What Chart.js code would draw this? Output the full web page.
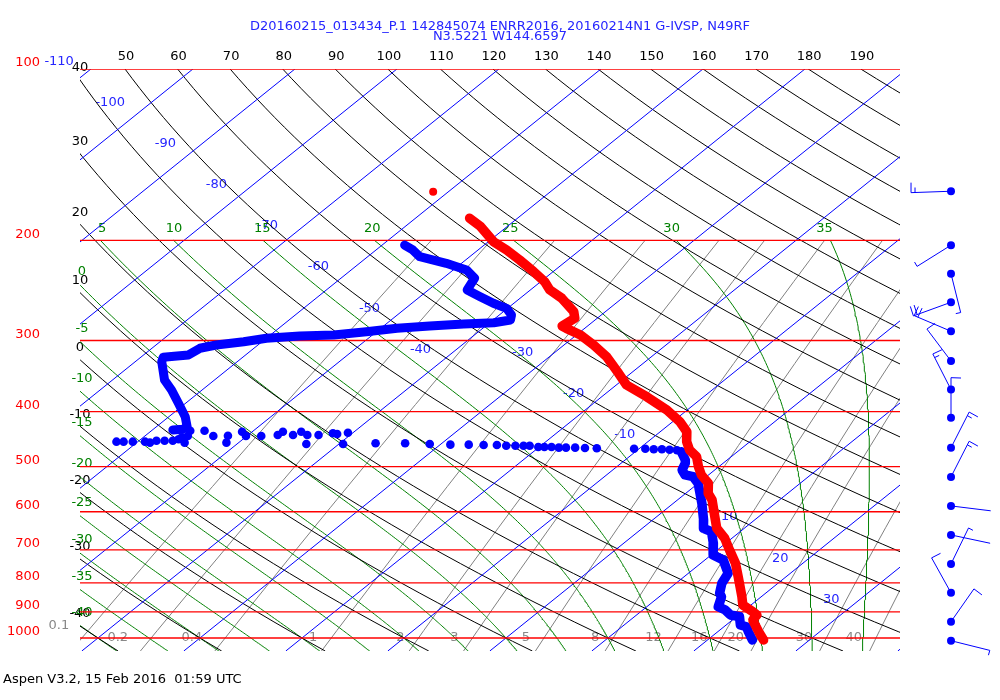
<!DOCTYPE html>
<html>
<head>
<meta charset="utf-8">
<title>Skew-T</title>
<script src="https://cdn.jsdelivr.net/npm/chart.js@4.4.1/dist/chart.umd.min.js"></script>
<style>
  html, body { margin: 0; padding: 0; background: #ffffff; }
  #box { width: 1000px; height: 700px; position: relative; }
</style>
</head>
<body>
<div id="box"><canvas id="skewt"></canvas></div>
<script>
// sounding: pressure (hPa) and temperature (degC)
var tempP = [182.9, 189.2, 201.1, 208.0, 216.6, 227.1, 236.5, 244.5, 252.9, 267.0, 274.2, 282.9, 285.6, 293.4, 305.5, 320.3, 342.6, 359.2, 376.6, 397.4, 416.7, 433.9, 451.8, 467.3, 480.1, 499.9, 517.0, 534.7, 556.8, 572.1, 612.1, 641.5, 668.0, 700.4, 739.1, 780.3, 812.5, 846.1, 875.0, 899.1, 911.1, 929.8, 974.8, 1008.1]
var tempT = [-54.7, -52.6, -49.5, -47.2, -44.7, -41.9, -39.6, -38.1, -35.9, -33.1, -32.2, -32.5, -31.8, -29.6, -27.1, -24.4, -21.2, -19.0, -15.6, -12.0, -9.3, -7.4, -6.2, -4.9, -3.4, -2.0, -0.7, 1.0, 2.2, 3.4, 5.7, 7.3, 9.3, 11.2, 13.4, 15.3, 16.7, 18.1, 19.2, 21.0, 21.8, 22.0, 24.0, 25.5]
var launchP = [164.3]
var launchT = [-61.5]

var dewUpperP = [203.9, 208.0, 213.7, 219.5, 225.5, 233.2, 239.6, 244.5, 251.3, 258.1, 263.4, 270.6, 276.1, 279.2, 280.6, 282.9, 285.6, 289.5, 293.4, 294.6, 297.3, 301.5, 305.5, 309.6, 318.1, 319.4, 321.1, 326.9, 352.0, 366.5, 386.8, 408.4, 425.2, 429.7, 430.9]
var dewUpperT = [-57.8, -56.4, -54.9, -51.5, -48.7, -46.9, -46.5, -46.2, -44.1, -42.0, -40.1, -38.8, -38.3, -39.6, -42.4, -45.5, -48.4, -51.0, -53.8, -57.0, -60.0, -61.8, -64.1, -65.3, -65.6, -66.6, -67.8, -67.4, -64.9, -63.0, -60.7, -58.4, -57.0, -57.1, -58.0]

var dewDotsP = [451.8, 451.8, 451.8, 451.8, 453.6, 450.0, 450.0, 450.0, 447.5, 443.9, 453.6, 441.5, 432.2, 432.2, 441.5, 441.0, 453.6, 433.9, 441.5, 441.5, 439.8, 433.9, 439.8, 433.9, 439.8, 456.1, 439.8, 436.7, 438.0, 456.1, 435.7, 454.8, 454.8, 456.1, 457.3, 457.3, 457.9, 457.9, 459.2, 459.2, 459.2, 459.2, 461.6, 461.6, 461.6, 462.9, 462.9, 462.9, 463.5, 464.1, 464.8, 464.8, 465.9, 465.9, 466.7, 467.8]
var dewDotsT = [-62.1, -61.4, -60.5, -59.3, -58.7, -58.3, -57.5, -56.7, -56.3, -56.2, -55.3, -55.8, -56.2, -54.8, -53.3, -51.9, -51.2, -51.0, -50.1, -48.6, -47.1, -47.0, -45.6, -45.2, -44.2, -43.2, -43.1, -41.9, -41.4, -39.6, -40.5, -36.5, -33.6, -31.1, -29.0, -27.2, -25.7, -24.4, -23.4, -22.5, -21.7, -21.1, -20.1, -19.5, -18.8, -18.0, -17.3, -16.4, -15.4, -14.2, -10.5, -9.4, -8.5, -7.7, -6.9, -6.1]

var dewLowerP = [470.5, 486.6, 493.1, 506.7, 517.0, 520.6, 534.7, 556.8, 579.8, 620.3, 641.5, 650.4, 681.7, 714.7, 729.3, 769.6, 801.4, 834.5, 846.1, 881.0, 892.9, 911.1, 917.4, 948.8, 955.3, 974.8, 1008.1]
var dewLowerT = [-5.5, -4.1, -3.7, -3.2, -2.3, -1.3, 0.0, 1.4, 2.8, 5.0, 6.0, 7.2, 8.8, 10.2, 11.8, 13.9, 14.5, 15.5, 16.1, 17.0, 18.1, 19.2, 20.3, 21.4, 22.2, 23.0, 24.4]

// winds: pressure (hPa), direction (deg), speed (kt)
var windP = [164, 204, 229, 257, 289, 326, 366, 410, 463, 521, 586, 659, 741, 833, 936, 1011]
var windDir = [268, 238, 166, 250, 293, 323, 333, 360, 27, 27, 97, 102, 26, 331, 35, 104]
var windSpd = [15, 5, 5, 20, 20, 10, 15, 10, 15, 15, 2, 2, 5, 10, 10, 5]

// diagram line families
var isobars = [100, 200, 300, 400, 500, 600, 700, 800, 900, 1000]
var isotherms = [-110, -100, -90, -80, -70, -60, -50, -40, -30, -20, -10, 0, 10, 20, 30, 40]
var thetas = [-40, -30, -20, -10, 0, 10, 20, 30, 40, 50, 60, 70, 80, 90, 100, 110, 120, 130, 140, 150, 160, 170, 180, 190]
var wetBulbs = [-40, -35, -30, -25, -20, -15, -10, -5, 0, 5, 10, 15, 20, 25, 30, 35]
var mixRatios = [0.1, 0.2, 0.4, 1, 2, 3, 5, 8, 12, 16, 20, 30, 40]

var title1 = 'D20160215_013434_P.1 142845074 ENRR2016, 20160214N1 G-IVSP, N49RF'
var title2 = 'N3.5221 W144.6597'
var footer = 'Aspen V3.2, 15 Feb 2016  01:59 UTC'

var SKEW = 30.1
var P_TOP = 100, P_BOT = 1054
var X_MIN = -41.76, X_MAX = 38.63
var FONT = '13px "DejaVu Sans", sans-serif'

function skX(p, t) { return t + SKEW * Math.log(1000 / p) }
function pt(p, t) { return { x: skX(p, t), y: p } }
function zip(ps, ts) { return ps.map(function (p, i) { return pt(p, ts[i]) }) }
function levels(pBot, pTop, n) {
  var out = []
  for (var i = 0; i <= n; i++) out.push(pBot * Math.pow(pTop / pBot, i / n))
  return out
}
function dryT(theta, p) { return (theta + 273.15) * Math.pow(p / 1000, 0.288) - 273.15 }
function mixT(w, p) {
  var e = w * p / (622 + w), a = Math.log(e / 6.112)
  return 243.5 * a / (17.67 - a)
}
function satMix(p, t) {
  var es = 6.112 * Math.exp(17.67 * t / (t + 243.5))
  return 0.622 * es / (p - es)
}
function moistRate(p, t) {
  var T = t + 273.15, rs = satMix(p, t)
  var num = 287.04 * T + 2.501e6 * rs
  var den = 1005.7 + 2.501e6 * 2.501e6 * rs * 0.622 / (287.04 * T * T)
  return num / den / p
}
function moistLine(thw) {
  var down = [], up = [], p = 1000, t = thw, dp, k1, k2
  dp = 2
  while (p < P_BOT) {
    k1 = moistRate(p, t); k2 = moistRate(p + dp / 2, t + k1 * dp / 2)
    t += k2 * dp; p += dp
    down.push({ p: p, t: t })
  }
  p = 1000; t = thw; dp = -4
  up.push({ p: p, t: t })
  while (p > 200) {
    k1 = moistRate(p, t); k2 = moistRate(p + dp / 2, t + k1 * dp / 2)
    t += k2 * dp; p += dp
    up.push({ p: p, t: t })
  }
  return down.reverse().concat(up)
}
function leftExit(line) {
  for (var i = 1; i < line.length; i++) {
    var a = skX(line[i - 1].p, line[i - 1].t) - X_MIN
    var b = skX(line[i].p, line[i].t) - X_MIN
    if (a >= 0 && b < 0) {
      var f = a / (a - b)
      return Math.exp(Math.log(line[i - 1].p) + f * (Math.log(line[i].p) - Math.log(line[i - 1].p)))
    }
  }
  return null
}

var dryLines = thetas.map(function (th) {
  return levels(P_BOT, P_TOP, 60).map(function (p) { return { p: p, t: dryT(th, p) } })
})
var wetLines = wetBulbs.map(moistLine)
var mixLines = mixRatios.map(function (w) {
  return levels(P_BOT, 200, 20).map(function (p) { return { p: p, t: mixT(w, p) } })
})

var datasets = []
function addLine(points, color, width, order) {
  datasets.push({ data: points, showLine: true, borderColor: color, borderWidth: width,
    pointRadius: 0, pointHoverRadius: 0, order: order })
}
function toPts(line) { return line.map(function (q) { return pt(q.p, q.t) }) }

// sounding on top
datasets.push({ data: zip(tempP, tempT), showLine: true, borderColor: '#ff0000', borderWidth: 9.5,
  borderCapStyle: 'round', borderJoinStyle: 'round', pointRadius: 0, order: 0 })
datasets.push({ data: zip(launchP, launchT), showLine: false, backgroundColor: '#ff0000',
  pointRadius: 4, borderWidth: 0, order: 0 })
datasets.push({ data: zip(dewUpperP, dewUpperT), showLine: true, borderColor: '#0000ff', borderWidth: 9,
  borderCapStyle: 'round', borderJoinStyle: 'round', pointRadius: 0, order: 0 })
datasets.push({ data: zip(dewLowerP, dewLowerT), showLine: true, borderColor: '#0000ff', borderWidth: 9.5,
  borderCapStyle: 'round', borderJoinStyle: 'round', pointRadius: 0, order: 0 })
datasets.push({ data: zip(dewDotsP, dewDotsT), showLine: false, backgroundColor: '#0000ff',
  pointRadius: 4.3, borderWidth: 0, order: 0 })

isobars.forEach(function (p) { addLine([{ x: X_MIN, y: p }, { x: X_MAX, y: p }], '#ff0000', 1.3, 1) })
isotherms.forEach(function (t) { addLine([pt(P_BOT, t), pt(P_TOP, t)], '#0000ff', 1, 2) })
dryLines.forEach(function (l) { addLine(toPts(l), '#000000', 1, 3) })
wetLines.forEach(function (l) { addLine(toPts(l), '#008000', 1, 4) })
mixLines.forEach(function (l) { addLine(toPts(l), '#808080', 1, 5) })

function drawBarb(ctx, cx, cy, dir, spd) {
  var a = dir * Math.PI / 180
  var ux = Math.sin(a), uy = -Math.cos(a)
  var r = 92 * Math.PI / 180
  var bx = ux * Math.cos(r) - uy * Math.sin(r)
  var by = ux * Math.sin(r) + uy * Math.cos(r)
  var len = 40
  ctx.beginPath()
  ctx.moveTo(cx, cy)
  ctx.lineTo(cx + ux * len, cy + uy * len)
  var n = Math.round(spd / 5), full = Math.floor(n / 2), half = n % 2, d = len
  for (var i = 0; i < full; i++) {
    var sx = cx + ux * d, sy = cy + uy * d
    ctx.moveTo(sx, sy); ctx.lineTo(sx + bx * 10, sy + by * 10)
    d -= 4
  }
  if (half) {
    var hx = cx + ux * d, hy = cy + uy * d
    ctx.moveTo(hx, hy); ctx.lineTo(hx + bx * 5, hy + by * 5)
  }
  ctx.stroke()
  ctx.beginPath()
  ctx.arc(cx, cy, 4, 0, Math.PI * 2)
  ctx.fill()
}

var labelPlugin = {
  id: 'skewLabels',
  beforeDatasetsDraw: function (chart) {
    var ctx = chart.ctx, xs = chart.scales.x, ys = chart.scales.y, area = chart.chartArea
    function px(p, t) { return xs.getPixelForValue(skX(p, t)) }
    function py(p) { return ys.getPixelForValue(p) }
    ctx.save()
    ctx.font = FONT
    ctx.textBaseline = 'middle'

    // isotherm labels
    ctx.fillStyle = '#2626ff'
    ctx.textAlign = 'right'
    isotherms.forEach(function (t) {
      var lp, gap
      if (t <= -40) { lp = 100 * Math.exp(0.166 * (t + 110) / 10); gap = 17 }
      else if (t <= 30 && t !== 0) { lp = 324.7 * Math.exp(0.166 * (t + 30) / 10); gap = 12 }
      else return
      ctx.fillText(String(t), px(lp, t) - gap, py(lp) - 7)
    })

    // mixing ratio labels
    ctx.fillStyle = '#888888'
    mixRatios.forEach(function (w) {
      var gap = w < 1 ? 23 : 14, lp = 1000
      var x = px(lp, mixT(w, lp)) - gap
      if (x < area.left) { lp = 952; x = px(lp, mixT(w, lp)) - gap }
      ctx.fillText(String(w), x, py(lp))
    })

    // dry adiabat labels
    ctx.fillStyle = '#000000'
    ctx.textAlign = 'center'
    thetas.forEach(function (th, i) {
      var ep = leftExit(dryLines[i])
      if (ep) ctx.fillText(String(th), area.left, py(ep) - 12)
      else ctx.fillText(String(th), px(P_TOP, dryT(th, P_TOP)) + 1, 57)
    })

    // moist adiabat labels
    ctx.fillStyle = '#008000'
    wetBulbs.forEach(function (tw, i) {
      var line = wetLines[i], ep = leftExit(line)
      if (ep) { ctx.fillText(String(tw), area.left + 2, py(ep) - 13); return }
      var last = line[line.length - 1]
      var x = px(last.p, last.t)
      if (x <= area.right) ctx.fillText(String(tw), x + 3 - 0.25 * tw, py(200) - 12)
    })

    // pressure labels
    ctx.fillStyle = '#ff0000'
    ctx.textAlign = 'right'
    isobars.forEach(function (p) { ctx.fillText(String(p), 40, py(p) - 6) })

    // title and footer
    ctx.fillStyle = '#2626ff'
    ctx.textAlign = 'center'
    ctx.fillText(title1, 500, 27)
    ctx.fillText(title2, 500, 37)
    ctx.fillStyle = '#000000'
    ctx.textAlign = 'left'
    ctx.fillText(footer, 3, 680)
    ctx.restore()
  },
  afterDraw: function (chart) {
    var ctx = chart.ctx, ys = chart.scales.y
    ctx.save()
    ctx.strokeStyle = '#0000ff'
    ctx.fillStyle = '#0000ff'
    ctx.lineWidth = 1
    windP.forEach(function (p, i) {
      drawBarb(ctx, 951, ys.getPixelForValue(p), windDir[i], windSpd[i])
    })
    ctx.restore()
  }
}

new Chart(document.getElementById('skewt'), {
  type: 'scatter',
  data: { datasets: datasets },
  options: {
    responsive: true,
    maintainAspectRatio: false,
    animation: false,
    events: [],
    layout: { padding: { left: 80, top: 69, right: 100, bottom: 49 } },
    scales: {
      x: { type: 'linear', min: X_MIN, max: X_MAX, display: false },
      y: { type: 'logarithmic', min: P_TOP, max: P_BOT, reverse: true, display: false }
    },
    plugins: { legend: { display: false }, tooltip: { enabled: false } }
  },
  plugins: [labelPlugin]
})
</script>
</body>
</html>
